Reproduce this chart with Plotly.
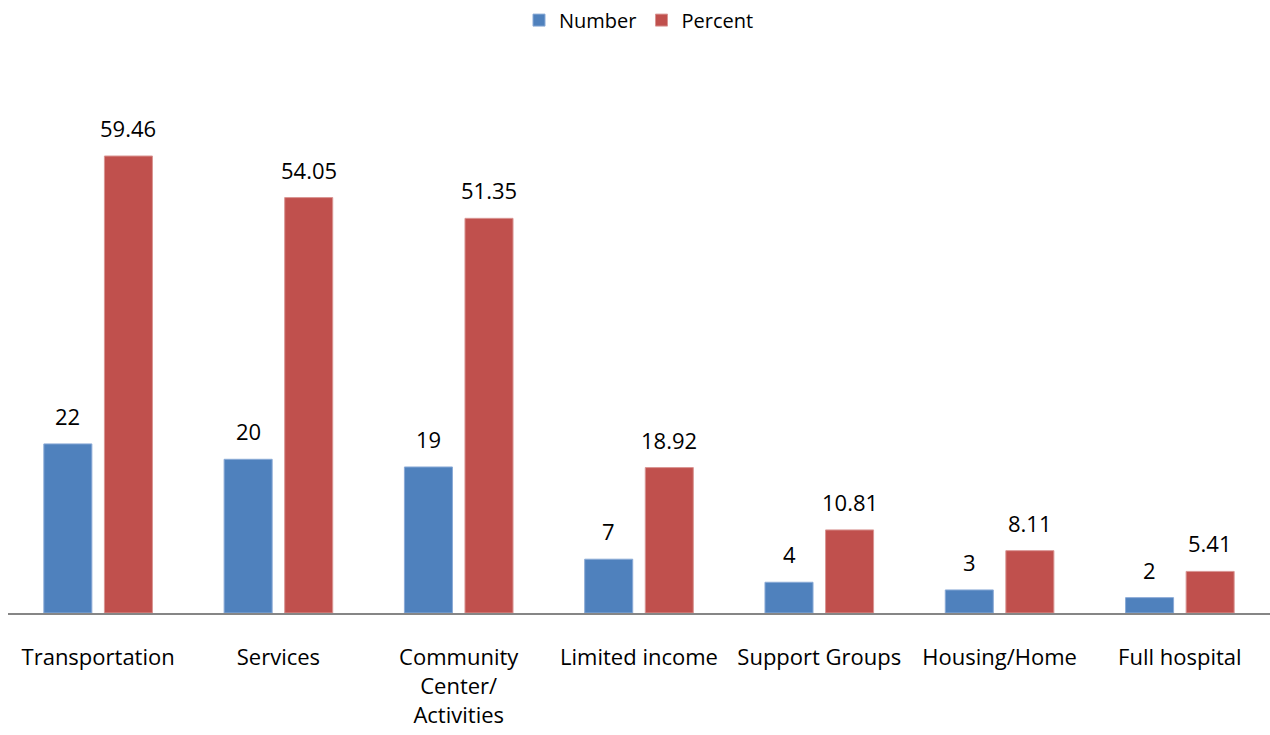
import plotly.graph_objects as go

categories = ["Transportation", "Services", "Community<br>Center/<br>Activities",
              "Limited income", "Support Groups", "Housing/Home", "Full hospital"]
number = [22, 20, 19, 7, 4, 3, 2]
percent = [59.46, 54.05, 51.35, 18.92, 10.81, 8.11, 5.41]

BLUE = "#4F81BD"
RED = "#C0504D"
FONT = "Open Sans"

fig = go.Figure()
fig.add_trace(go.Bar(x=categories, y=number, name="Number",
                     marker=dict(color=BLUE, line=dict(color="#8AAAD6", width=1))))
fig.add_trace(go.Bar(x=categories, y=percent, name="Percent",
                     marker=dict(color=RED, line=dict(color="#D99593", width=1))))

# value labels above each bar
slot_px = 30.25
for vals, shift, fmt in ((number, -slot_px, "{:d}"), (percent, slot_px, "{:.2f}")):
    for c, v in zip(categories, vals):
        fig.add_annotation(x=c, y=v, text=fmt.format(v), showarrow=False,
                           xshift=shift, yshift=28, yanchor="middle",
                           font=dict(family=FONT, size=22, color="#000"))

fig.update_layout(
    width=1270, height=735,
    margin=dict(l=8, r=0, t=75, b=122, autoexpand=False),
    paper_bgcolor="white", plot_bgcolor="white",
    barmode="group", bargap=0.328, bargroupgap=0.207,
    font=dict(family=FONT, size=22, color="#000"),
    legend=dict(orientation="h", x=0.5, xanchor="center", y=1.102, yanchor="middle",
                font=dict(family=FONT, size=20), itemwidth=30, traceorder="normal"),
    showlegend=True,
)
fig.update_xaxes(showline=True, linecolor="#868686", linewidth=2, ticks="",
                 ticklabelstandoff=24, tickfont=dict(family=FONT, size=22),
                 showgrid=False, automargin=False)
fig.update_yaxes(range=[0, 70], visible=False, showgrid=False, zeroline=False,
                 automargin=False)

fig.write_html("out.html")
